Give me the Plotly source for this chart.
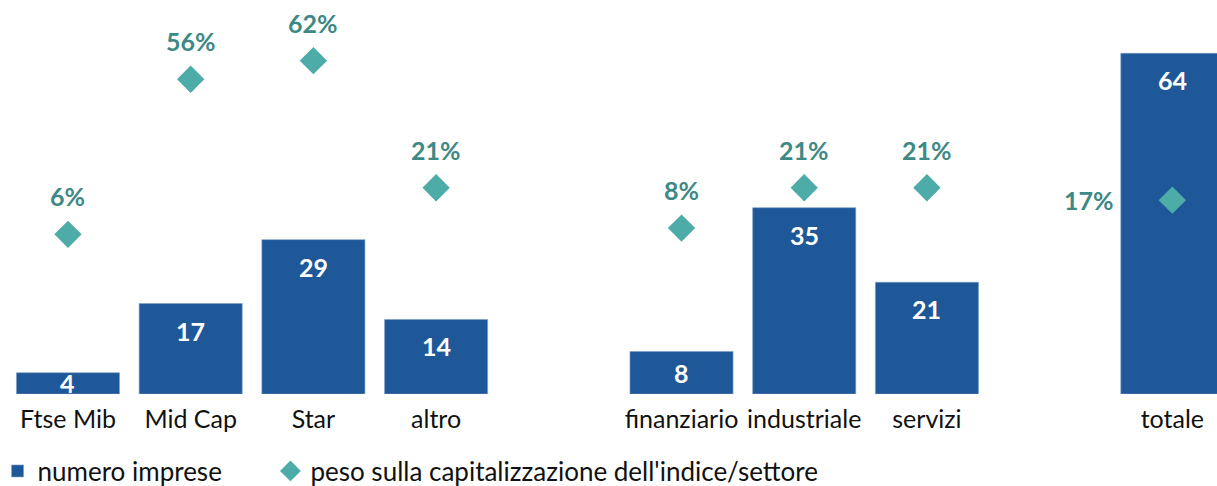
import plotly.graph_objects as go

# ---- data ----
categories = ["Ftse Mib", "Mid Cap", "Star", "altro",
              "finanziario", "industriale", "servizi", "totale"]
numero_imprese = [4, 17, 29, 14, 8, 35, 21, 64]
peso_cap = [6, 56, 62, 21, 8, 21, 21, 17]  # %
group_breaks_after = ["altro", "servizi"]  # spacer slot after these

# ---- layout helpers ----
axis_order = []
gap_count = 0
for c in categories:
    axis_order.append(c)
    if c in group_breaks_after:
        gap_count += 1
        axis_order.append(" " * gap_count)

BAR_COLOR = "#1F5899"
TEAL = "#4DABA8"
TEAL_TXT = "#3E8885"
FONT = "Lato"
FS = 25

W, H = 1217, 486
MT, MB = 20, 92
plot_h = H - MT - MB
y1_range = [0, 70.26]
y2_range = [-45.5, 75.1]
px_per_unit = plot_h / (y1_range[1] - y1_range[0])

fig = go.Figure()
fig.add_trace(go.Bar(
    x=categories, y=numero_imprese, name="numero imprese",
    marker=dict(color=BAR_COLOR, line=dict(color="#7F9CC8", width=0.6)),
    hoverinfo="x+y", legend="legend",
))
fig.add_trace(go.Scatter(
    x=categories, y=peso_cap, name="peso sulla capitalizzazione dell'indice/settore",
    mode="markers", yaxis="y2", legend="legend2",
    marker=dict(symbol="diamond", size=21, color=TEAL),
))

annotations = []
for c, v in zip(categories, numero_imprese):
    h = v * px_per_unit
    annotations.append(dict(
        x=c, y=v, xref="x", yref="y", text=f"<b>{v}</b>", showarrow=False,
        yshift=-min(27, h / 2), font=dict(family=FONT, size=FS, color="white"),
    ))
for c, p in zip(categories, peso_cap):
    if c == "totale":
        xs, ys = -83, 0
    else:
        xs, ys = 0, 38
    annotations.append(dict(
        x=c, y=p, xref="x", yref="y2", text=f"<b>{p}%</b>", showarrow=False,
        xshift=xs, yshift=ys, font=dict(family=FONT, size=FS, color=TEAL_TXT),
    ))

legend_common = dict(orientation="h", y=-0.206, xanchor="left", yanchor="middle",
                     font=dict(family=FONT, size=26, color="#111111"),
                     bgcolor="rgba(0,0,0,0)")

fig.update_layout(
    width=W, height=H,
    margin=dict(l=0, r=0, t=MT, b=MB, autoexpand=False),
    paper_bgcolor="white", plot_bgcolor="white",
    font=dict(family=FONT, size=FS, color="#111111"),
    bargap=0.16,
    showlegend=True,
    legend=dict(x=-0.002, **legend_common),
    legend2=dict(x=0.2222, **legend_common),
    xaxis=dict(type="category", categoryorder="array", categoryarray=axis_order,
               range=[-0.554, 9.364], showgrid=False, showline=False, zeroline=False,
               ticks="", ticklabelstandoff=8,
               tickfont=dict(family=FONT, size=FS, color="#111111")),
    yaxis=dict(range=y1_range, visible=False, showgrid=False),
    yaxis2=dict(range=y2_range, overlaying="y", visible=False, showgrid=False),
    annotations=annotations,
)

fig.write_html(
    "out.html",
    config={"displayModeBar": False},
    post_script="document.body.style.margin='0';document.body.style.overflow='hidden';",
)
